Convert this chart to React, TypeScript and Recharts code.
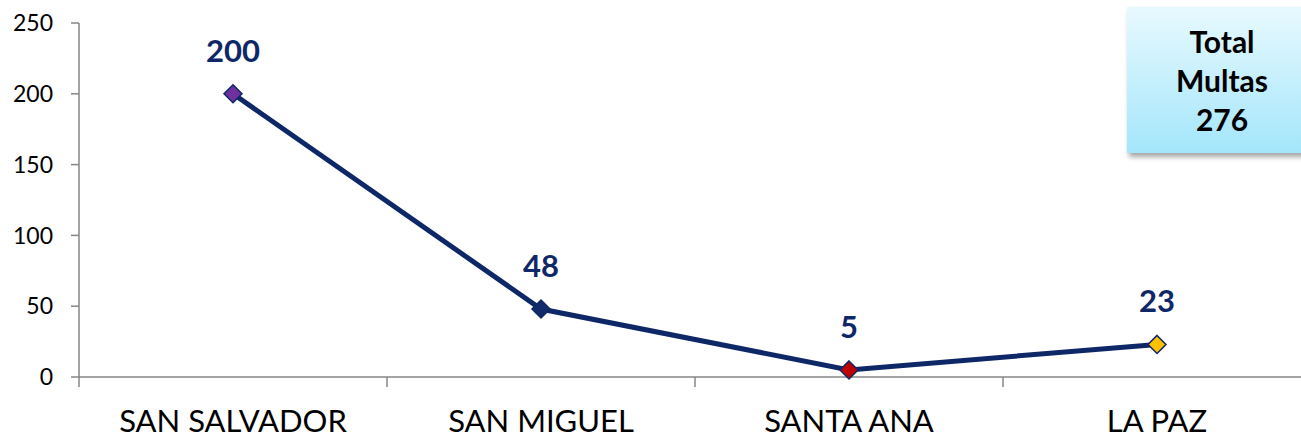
import { LineChart, Line, XAxis, YAxis } from 'recharts';

const categories = ['SAN SALVADOR', 'SAN MIGUEL', 'SANTA ANA', 'LA PAZ'];
const multas = [200, 48, 5, 23];
const markerColors = ['#7030a0', '#102a6b', '#c00000', '#ffc000'];
const yTicks = [0, 50, 100, 150, 200, 250];
const totalLabel = ['Total', 'Multas', '276'];

const NAVY = '#0e2766';
const AXIS = '#868686';
const FONT = 'Lato, "Open Sans", sans-serif';

const chartData = categories.map((name, i) => ({
  name,
  multas: multas[i],
  color: markerColors[i],
}));

function Diamond(props: any) {
  const { cx, cy, payload } = props;
  if (cx == null || cy == null) return null;
  const r = 9;
  return (
    <polygon
      points={`${cx},${cy - r} ${cx + r},${cy} ${cx},${cy + r} ${cx - r},${cy}`}
      fill={payload.color}
      stroke={NAVY}
      strokeWidth={1.5}
    />
  );
}

function CategoryTick(props: any) {
  const { x, y, payload } = props;
  const half = payload.offset || 0;
  return (
    <g>
      <line x1={x - half} y1={y} x2={x - half} y2={y + 10} stroke={AXIS} strokeWidth={1.5} />
      <text x={x} y={y + 55} textAnchor="middle" fill="#000" fontSize={31} fontFamily={FONT}>
        {payload.value}
      </text>
    </g>
  );
}

function ValueLabel(props: any) {
  const { x, y, value } = props;
  return (
    <text x={x} y={y - 32} textAnchor="middle" fill={NAVY} fontSize={31} fontWeight={700} fontFamily={FONT}>
      {value}
    </text>
  );
}

export default function App() {
  return (
    <div style={{ position: 'absolute', left: 0, top: 0, width: 1301, height: 439, overflow: 'hidden', background: '#fff' }}>
      <LineChart width={1320} height={439} data={chartData} margin={{ top: 23, right: 9, bottom: 0, left: 0 }}>
        <XAxis
          dataKey="name"
          scale="band"
          height={62}
          axisLine={{ stroke: AXIS, strokeWidth: 1.5 }}
          tickLine={false}
          tickSize={0}
          tickMargin={0}
          tick={<CategoryTick />}
          interval={0}
        />
        <YAxis
          width={79}
          domain={[0, 250]}
          ticks={yTicks}
          tickSize={8}
          tickMargin={18}
          axisLine={{ stroke: AXIS, strokeWidth: 1.5 }}
          tickLine={{ stroke: AXIS, strokeWidth: 1.5 }}
          tick={{ fill: '#000', fontSize: 23, fontFamily: FONT }}
        />
        <Line
          type="linear"
          dataKey="multas"
          stroke={NAVY}
          strokeWidth={5}
          dot={<Diamond />}
          activeDot={false}
          label={<ValueLabel />}
          isAnimationActive={false}
        />
      </LineChart>
      <div
        style={{
          position: 'absolute',
          left: 1127,
          top: 7,
          width: 190,
          height: 146,
          background: 'linear-gradient(to bottom, #e8f9fe, #a3e6fb)',
          boxShadow: '2px 4px 5px rgba(0,0,0,0.35)',
          display: 'flex',
          flexDirection: 'column',
          alignItems: 'center',
          justifyContent: 'center',
          fontFamily: FONT,
          fontWeight: 700,
          fontSize: 30,
          lineHeight: '39px',
          color: '#000',
        }}
      >
        {totalLabel.map((t) => (
          <div key={t}>{t}</div>
        ))}
      </div>
    </div>
  );
}
